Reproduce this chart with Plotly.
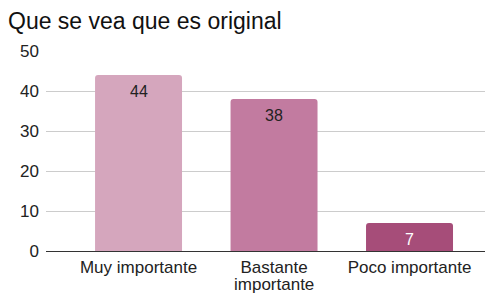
import plotly.graph_objects as go

categories = ["Muy importante", "Bastante", "Poco importante"]
category_second_line = ["", "importante", ""]
values = [44, 38, 7]
colors = ["#d5a6bd", "#c27ba0", "#a64d79"]
label_colors = ["#222222", "#222222", "#ffffff"]
title = "Que se vea que es original"

FONT = "Liberation Sans, Arial"

fig = go.Figure(go.Bar(
    x=list(range(len(categories))),
    y=values,
    marker=dict(color=colors, line=dict(width=0), cornerradius=3),
    width=0.642,
    hoverinfo="x+y",
))

# value labels just inside the top of each bar
for i, v in enumerate(values):
    fig.add_annotation(x=i, xref="x", y=v, yref="y", text=str(v),
                       showarrow=False, yanchor="top", yshift=-6,
                       font=dict(size=16, color=label_colors[i], family=FONT))

# second line of wrapped category labels
for i, extra in enumerate(category_second_line):
    if extra:
        fig.add_annotation(x=i, xref="x", y=-0.168, yref="paper", text=extra,
                           showarrow=False, yanchor="middle",
                           font=dict(size=17, color="#222222", family=FONT))

fig.update_layout(
    width=485, height=286,
    margin=dict(l=38, r=3, t=43, b=43),
    paper_bgcolor="white", plot_bgcolor="white",
    title=dict(text=title, x=0, xanchor="left", y=0.956, yanchor="middle",
               font=dict(size=23, color="#111111", family=FONT)),
    font=dict(family=FONT, size=17, color="#222222"),
    showlegend=False,
    xaxis=dict(
        tickmode="array", tickvals=list(range(len(categories))), ticktext=categories,
        range=[-0.683, 2.594], showgrid=False, zeroline=False, automargin=False,
        showline=True, linecolor="#333333", linewidth=1, ticks="",
        ticklabelstandoff=1,
        tickfont=dict(size=17, color="#222222"),
    ),
    yaxis=dict(
        range=[0, 50], tickvals=[0, 10, 20, 30, 40, 50], automargin=False,
        showgrid=True, gridcolor="#cccccc", gridwidth=1,
        zeroline=False, showline=False, ticks="", ticklen=0,
        ticklabelstandoff=6,
        tickfont=dict(size=17, color="#222222"),
    ),
)

fig.write_html("out.html")
